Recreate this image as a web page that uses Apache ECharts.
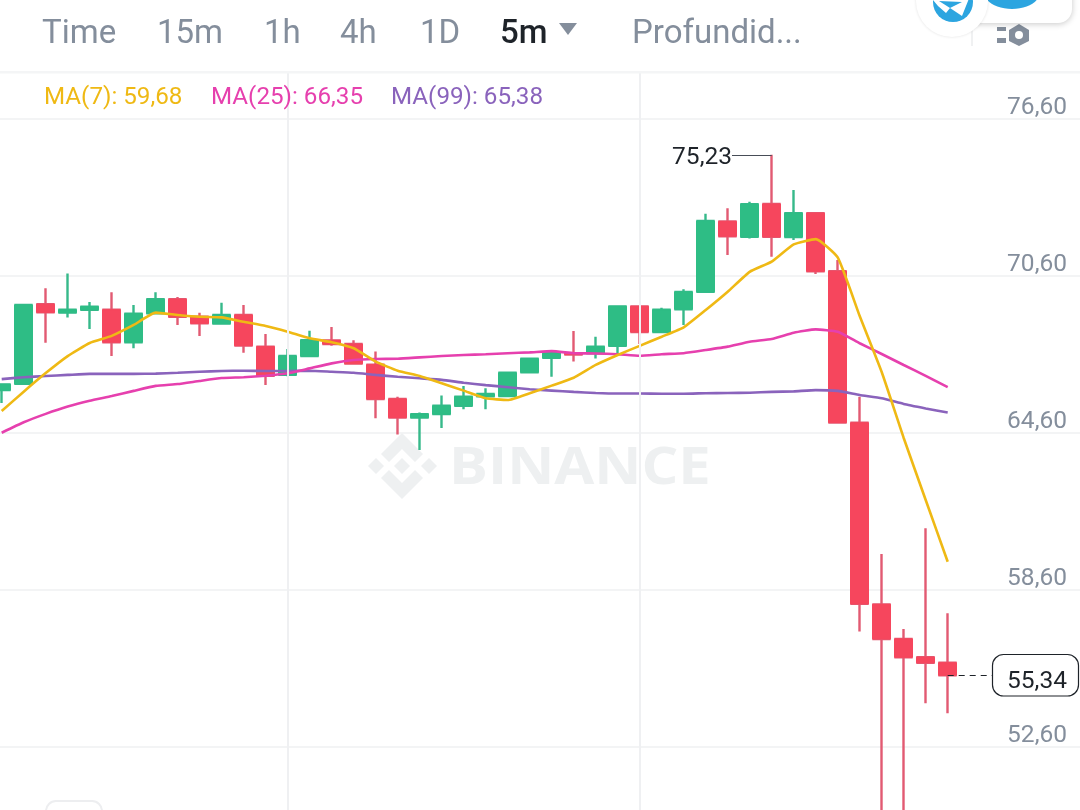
<!DOCTYPE html>
<html>
<head>
<meta charset="utf-8">
<style>html,body{margin:0;padding:0;background:#fff}#c{width:1080px;height:810px}</style>
<script src="https://cdn.jsdelivr.net/npm/echarts@6/dist/echarts.min.js"></script>
</head>
<body>
<div id="c"></div>
<script>
const categories = ['0','1','2','3','4','5','6','7','8','9','10','11','12','13','14','15','16','17','18','19','20','21','22','23','24','25','26','27','28','29','30','31','32','33','34','35','36','37','38','39','40','41','42','43','44','45','46','47','48','49'];
const opens = [66.24,66.48,69.52,69.20,69.31,69.31,68.07,69.17,69.71,69.04,68.78,69.11,67.90,66.82,67.54,68.14,68.00,67.21,65.90,65.19,65.32,65.64,66.00,66.01,66.92,67.47,67.65,67.65,67.93,69.44,68.46,69.33,70.00,72.68,72.10,73.35,72.09,73.00,70.78,64.99,58.05,56.73,56.03,55.82];
const closes = [66.46,69.49,69.21,69.31,69.43,68.07,69.16,69.71,69.04,68.79,69.11,67.94,66.79,67.54,68.15,68.00,67.25,65.90,65.19,65.32,65.64,65.99,66.09,66.90,67.44,67.65,67.60,67.90,69.44,68.46,69.31,69.99,72.70,72.12,73.34,72.10,73.00,70.78,65.00,58.07,56.73,56.03,55.82,55.34];
const lows = [65.75,66.48,68.05,69.01,68.57,67.54,67.84,69.17,68.73,68.31,68.78,67.67,66.43,66.77,67.52,67.93,67.25,65.16,64.54,63.95,64.79,65.51,65.51,66.01,66.92,66.75,67.33,67.45,67.65,68.00,68.46,68.73,70.00,71.40,72.03,71.34,71.98,70.68,65.00,57.01,49.43,49.43,54.27,53.89];
const highs = [66.46,69.53,70.13,70.70,69.61,69.98,69.49,69.98,69.80,69.20,69.58,69.49,68.38,67.81,68.51,68.65,68.14,67.71,65.99,65.38,66.03,66.40,66.31,66.90,67.49,67.66,68.50,68.28,69.48,69.48,69.39,70.09,72.98,73.19,73.44,75.23,73.89,73.00,71.21,65.99,59.98,57.11,60.96,57.71];
const ma7 = [65.44,66.18,66.89,67.54,68.04,68.31,68.73,69.20,69.11,69.04,69.02,68.85,68.69,68.47,68.22,68.07,67.84,67.33,66.98,66.78,66.50,66.22,65.93,65.86,66.12,66.41,66.71,67.20,67.58,67.93,68.28,68.64,69.30,70.00,70.76,71.15,71.81,72.01,71.31,69.07,66.93,64.41,62.04,59.68];
const ma25 = [64.61,65.01,65.33,65.61,65.83,66.01,66.21,66.40,66.47,66.59,66.70,66.73,66.79,66.88,67.07,67.26,67.39,67.43,67.44,67.49,67.54,67.58,67.61,67.65,67.68,67.73,67.65,67.64,67.61,67.55,67.61,67.65,67.77,67.90,68.09,68.19,68.43,68.56,68.47,68.03,67.62,67.20,66.78,66.35];
const ma99 = [66.66,66.73,66.78,66.82,66.86,66.86,66.86,66.87,66.90,66.94,66.97,66.98,66.97,66.97,66.98,66.94,66.90,66.82,66.75,66.69,66.63,66.52,66.43,66.35,66.27,66.22,66.17,66.13,66.11,66.11,66.10,66.10,66.12,66.13,66.14,66.17,66.19,66.24,66.21,66.05,65.93,65.71,65.54,65.38];
const tabs = [['Time',42],['15m',157],['1h',264],['4h',340],['1D',420],['Profundid...',632]];
const legendItems = [['MA(7): 59,68',44,'#EFB914'],['MA(25): 66,35',211,'#E640AE'],['MA(99): 65,38',391,'#8A63BC']];
const verticalLines = ['13','29'];
const peakIndex = '35', peakValue = 75.23, lastIndex = '43', lastValue = 55.34;

const GREEN = '#2EBD85', RED = '#F6465D', WICK_GREEN = '#36B98A', WICK_RED = '#E25A72', FONT = 'Roboto';
const candles = opens.map((o, i) => [o, closes[i], lows[i], highs[i]]);
const bodies = opens.map((o, i) => [o, closes[i], Math.min(o, closes[i]), Math.max(o, closes[i])]);
const lineSeries = (name, data, color) => ({
  name, type: 'line', data, z: 4, showSymbol: false, symbol: 'none', smooth: 0.15,
  lineStyle: { color, width: 2.6 }, silent: true
});
const chevron = pts => ({ type: 'polygon', z: 0, shape: { points: pts }, style: { fill: '#EEF0F1' } });

const graphic = [
  // watermark
  chevron([[402,433],[423,454],[415,462],[402,449],[389,462],[381,454]]),
  chevron([[402,499],[423,478],[415,470],[402,483],[389,470],[381,478]]),
  chevron([[402,458],[410,466],[402,474],[394,466]]),
  chevron([[376,458],[384,466],[376,474],[368,466]]),
  chevron([[429,458],[437,466],[429,474],[421,466]]),
  { type: 'text', z: 0, x: 449, y: 469, scaleX: 1.115, style: { text: 'BINANCE', fill: '#EEF0F1', font: 'bold 52px "Open Sans"', textVerticalAlign: 'middle' } },
  // header
  { type: 'rect', z: 20, shape: { x: 0, y: 0, width: 1080, height: 71 }, style: { fill: '#fff' } },
  { type: 'rect', z: 20, shape: { x: 0, y: 71, width: 1080, height: 2.5 }, style: { fill: '#F4F5F6' } },
  ...tabs.map(([t, x]) => ({ type: 'text', z: 21, x, y: 35, style: { text: t, fill: '#848E9C', font: '33px ' + FONT, textVerticalAlign: 'middle' } })),
  { type: 'text', z: 21, x: 500, y: 35, style: { text: '5m', fill: '#1E2329', font: '500 33px ' + FONT, textVerticalAlign: 'middle' } },
  { type: 'polygon', z: 21, shape: { points: [[559,23],[577,23],[568,35]] }, style: { fill: '#848E9C' } },
  // settings icon
  { type: 'rect', z: 21, shape: { x: 997, y: 27, width: 9, height: 4 }, style: { fill: '#848E9C' } },
  { type: 'rect', z: 21, shape: { x: 997, y: 38, width: 9, height: 5 }, style: { fill: '#848E9C' } },
  { type: 'polygon', z: 21, shape: { points: [[1019,24],[1029,30],[1029,41],[1019,46],[1009,41],[1009,30]] }, style: { fill: '#848E9C' } },
  { type: 'circle', z: 21, shape: { cx: 1019, cy: 35, r: 4 }, style: { fill: '#fff' } },
  { type: 'rect', z: 21, shape: { x: 971, y: 30, width: 2, height: 16 }, style: { fill: '#F0F1F2' } },
  // floating buttons
  { type: 'rect', z: 22, shape: { x: 960, y: -40, width: 112, height: 63, r: 14 }, style: { fill: '#fff', shadowBlur: 6, shadowColor: 'rgba(0,0,0,0.22)', shadowOffsetY: 1 } },
  { type: 'ellipse', z: 23, shape: { cx: 1012, cy: -8, rx: 28, ry: 17 }, style: { fill: '#2CA5E0' } },
  { type: 'circle', z: 24, shape: { cx: 952, cy: 1, r: 36 }, style: { fill: '#fff', shadowBlur: 3, shadowColor: 'rgba(0,0,0,0.12)' } },
  { type: 'circle', z: 25, shape: { cx: 953, cy: 2, r: 20 }, style: { fill: '#2CA5E0' } },
  { type: 'polygon', z: 26, shape: { points: [[933,0],[963,-2],[970,-4],[962,16],[950,8],[946,13],[938,6]] }, style: { fill: '#fff' } },
  { type: 'polygon', z: 27, shape: { points: [[939,1],[962,2],[950,8]] }, style: { fill: '#2CA5E0' } },
  // legend
  ...legendItems.map(([t, x, c]) => ({ type: 'text', z: 21, x, y: 98, style: { text: t, fill: c, font: '24.2px ' + FONT, textVerticalAlign: 'middle' } })),
  // peak label, price tag and bottom stub
  { type: 'text', z: 5, x: 732, y: 158, style: { text: '75,23', fill: '#1E2329', font: '24.5px ' + FONT, textAlign: 'right', textVerticalAlign: 'middle' } },
  { type: 'rect', z: 21, shape: { x: 992.5, y: 654.5, width: 86, height: 41.5, r: 11 }, style: { fill: '#fff', stroke: '#1E2329', lineWidth: 1.2 } },
  { type: 'text', z: 22, x: 1037, y: 682, style: { text: '55,34', fill: '#1E2329', font: '24.5px ' + FONT, textAlign: 'center', textVerticalAlign: 'middle' } },
  { type: 'rect', z: 1, shape: { x: 46, y: 801, width: 56, height: 30, r: 10 }, style: { fill: '#fff', stroke: '#EDEEF0', lineWidth: 2 } }
];

const chart = echarts.init(document.getElementById('c'), null, { renderer: 'canvas' });
chart.setOption({
  animation: false,
  backgroundColor: '#fff',
  grid: { left: -9.3, width: 1100, top: -38, height: 942, containLabel: false, outerBoundsMode: 'none' },
  xAxis: { type: 'category', data: categories, boundaryGap: true, axisLine: { show: false }, axisTick: { show: false }, axisLabel: { show: false }, splitLine: { show: false } },
  yAxis: {
    type: 'value', position: 'right', min: 46.6, max: 82.6, interval: 6, scale: true,
    axisLine: { show: false }, axisTick: { show: false },
    splitLine: { show: true, lineStyle: { color: '#EFF0F2', width: 1.5 } },
    axisLabel: {
      inside: true, margin: 23.7, color: '#848E9C', fontFamily: FONT, fontSize: 24.5, align: 'right', verticalAlign: 'bottom', lineHeight: 22,
      showMinLabel: false, showMaxLabel: false,
      formatter: v => v.toFixed(2).replace('.', ',')
    }
  },
  graphic,
  series: [
    {
      name: 'guides', type: 'line', data: [], z: 1, silent: true,
      markLine: {
        silent: true, symbol: 'none', animation: false,
        data: [
          ...verticalLines.map(c => ({ xAxis: c, lineStyle: { color: '#EFF0F2', width: 2, type: 'solid' }, label: { show: false } })),
          [
            { coord: [peakIndex, peakValue], lineStyle: { color: '#474D57', width: 1.2, type: 'solid' }, label: { show: false } },
            { x: 732, y: 155 }
          ],
          [
            { coord: [lastIndex, lastValue], lineStyle: { color: '#1E2329', width: 1.2, type: [6, 5] }, label: { show: false } },
            { x: 992, y: 675.3 }
          ]
        ]
      }
    },
    {
      name: 'wicks', type: 'candlestick', data: candles, z: 2, barWidth: 16, silent: true,
      itemStyle: { color: WICK_GREEN, color0: WICK_RED, borderColor: WICK_GREEN, borderColor0: WICK_RED, borderWidth: 2.4 }
    },
    {
      name: 'bodies', type: 'candlestick', data: bodies, z: 3, barWidth: 18.4, silent: true,
      itemStyle: { color: GREEN, color0: RED, borderColor: GREEN, borderColor0: RED, borderWidth: 1 }
    },
    lineSeries('MA(99)', ma99, '#8A63BC'),
    lineSeries('MA(25)', ma25, '#E640AE'),
    lineSeries('MA(7)', ma7, '#EFB914')
  ]
});
</script>
</body>
</html>
